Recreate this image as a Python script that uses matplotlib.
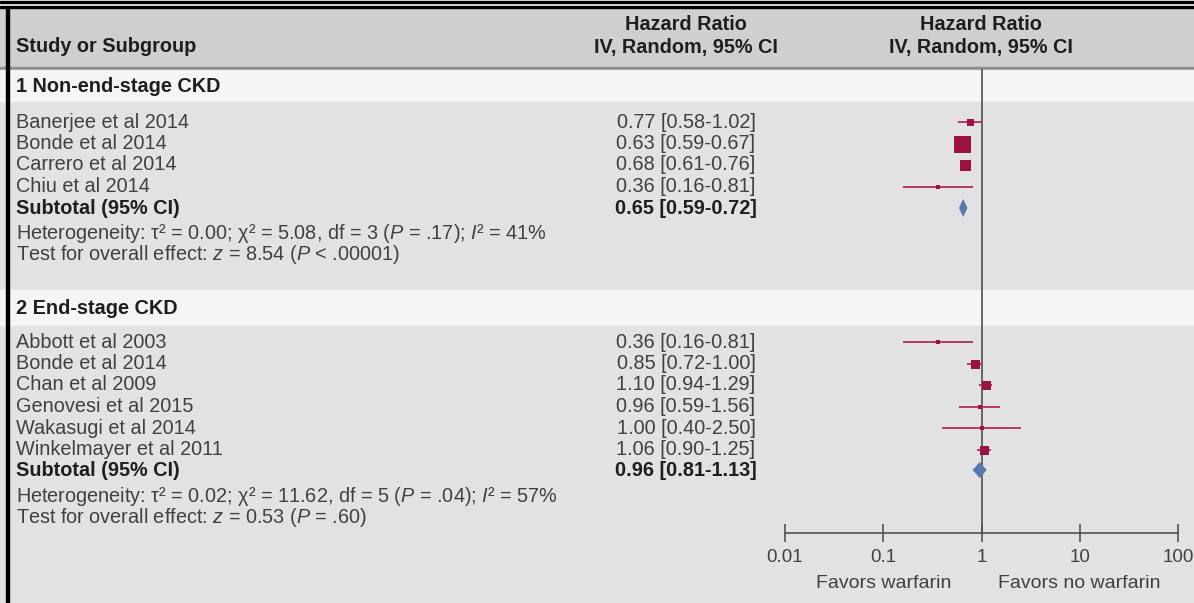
import matplotlib
matplotlib.use("Agg")
import matplotlib.pyplot as plt
from matplotlib.ticker import FixedLocator, FixedFormatter, NullLocator

plt.rcParams['font.family'] = ['Liberation Sans', 'DejaVu Sans']
plt.rcParams['mathtext.fontset'] = 'custom'
plt.rcParams['mathtext.rm'] = 'Liberation Sans'
plt.rcParams['mathtext.it'] = 'Liberation Sans:italic'
plt.rcParams['mathtext.bf'] = 'Liberation Sans:bold'

# ---- data ----
g1_name = "1 Non-end-stage CKD"
g1_studies = ["Banerjee et al 2014", "Bonde et al 2014", "Carrero et al 2014", "Chiu et al 2014"]
g1_hr = [0.77, 0.63, 0.68, 0.36]
g1_lo = [0.58, 0.59, 0.61, 0.16]
g1_hi = [1.02, 0.67, 0.76, 0.81]
g1_total = [0.65, 0.59, 0.72]
g1_het = r"Heterogeneity: τ² = 0.00; χ² = 5.08, df = 3 ($P$ = .17); $I$² = 41%"
g1_test = r"Test for overall effect: $z$ = 8.54 ($P$ < .00001)"

g2_name = "2 End-stage CKD"
g2_studies = ["Abbott et al 2003", "Bonde et al 2014", "Chan et al 2009",
              "Genovesi et al 2015", "Wakasugi et al 2014", "Winkelmayer et al 2011"]
g2_hr = [0.36, 0.85, 1.10, 0.96, 1.00, 1.06]
g2_lo = [0.16, 0.72, 0.94, 0.59, 0.40, 0.90]
g2_hi = [0.81, 1.00, 1.29, 1.56, 2.50, 1.25]
g2_total = [0.96, 0.81, 1.13]
g2_het = r"Heterogeneity: τ² = 0.02; χ² = 11.62, df = 5 ($P$ = .04); $I$² = 57%"
g2_test = r"Test for overall effect: $z$ = 0.53 ($P$ = .60)"

ticks = [0.01, 0.1, 1, 10, 100]
tick_labels = ["0.01", "0.1", "1", "10", "100"]

# ---- layout (pixel rows) ----
W, H = 1194, 603
g1_rows = [122, 143.5, 165, 186.5]
g1_sub_y = 208
g1_het_y, g1_test_y = 232, 253
g2_rows = [342, 363.5, 385, 406.5, 428, 449.5]
g2_sub_y = 470
g2_het_y, g2_test_y = 495, 516
g1_size = [7, 17, 11, 4]
g2_size = [4, 9, 9, 5, 5, 9]

SQ = '#9c1240'
LINE = '#b53a62'
DIA = '#5879b0'
TXT = '#404040'
BOLD = '#1e1e1e'

fig = plt.figure(figsize=(W / 100, H / 100), dpi=100)
bg = fig.add_axes([0, 0, 1, 1])
bg.set_xlim(0, W)
bg.set_ylim(H, 0)
bg.axis('off')

# bands
bg.axhspan(0, H, color='white', zorder=0)
bg.axhspan(8, 67, color='#cfcfd1', zorder=1)
bg.axhspan(67, 69.5, color='#8e8e90', zorder=1)
bg.axhspan(69.5, 102, color='#f5f5f5', zorder=1)
bg.axhspan(102, 290, color='#e2e2e4', zorder=1)
bg.axhspan(290, 326, color='#f5f5f5', zorder=1)
bg.axhspan(326, H, color='#e2e2e4', zorder=1)
# borders
bg.axhspan(0.5, 3.3, color='black', zorder=2)
bg.axhspan(5.8, 8, color='black', zorder=2)
bg.axvspan(6, 8.5, ymin=0, ymax=1 - 8 / H, color='black', zorder=2)

fs = 14.3
xl = 16
col_hr = 686
hdr1, hdr2 = 24, 47
bg.text(xl, hdr2, "Study or Subgroup", fontsize=fs, fontweight='bold', color=BOLD, va='center')
bg.text(col_hr, hdr1, "Hazard Ratio", fontsize=fs, fontweight='bold', color=BOLD, ha='center', va='center')
bg.text(col_hr, hdr2, "IV, Random, 95% CI", fontsize=fs, fontweight='bold', color=BOLD, ha='center', va='center')
bg.text(981, hdr1, "Hazard Ratio", fontsize=fs, fontweight='bold', color=BOLD, ha='center', va='center')
bg.text(981, hdr2, "IV, Random, 95% CI", fontsize=fs, fontweight='bold', color=BOLD, ha='center', va='center')


def fmt(hr, lo, hi):
    return f"{hr:.2f} [{lo:.2f}-{hi:.2f}]"


def table_block(name, name_y, studies, hr, lo, hi, rows, total, sub_y, het, het_y, test, test_y):
    bg.text(xl, name_y, name, fontsize=fs, fontweight='bold', color=BOLD, va='center')
    for s, h, l, u, y in zip(studies, hr, lo, hi, rows):
        bg.text(xl, y, s, fontsize=fs, color=TXT, va='center')
        bg.text(col_hr, y, fmt(h, l, u), fontsize=fs, color=TXT, ha='center', va='center')
    bg.text(xl, sub_y, "Subtotal (95% CI)", fontsize=fs, fontweight='bold', color=BOLD, va='center')
    bg.text(col_hr, sub_y, fmt(*total), fontsize=fs, fontweight='bold', color=BOLD, ha='center', va='center')
    # baseline placement keeps mathtext lines level with plain rows
    bg.text(xl, het_y + 7, het, fontsize=fs, color=TXT, va='baseline')
    bg.text(xl, test_y + 7, test, fontsize=fs, color=TXT, va='baseline')


table_block(g1_name, 86, g1_studies, g1_hr, g1_lo, g1_hi, g1_rows, g1_total, g1_sub_y,
            g1_het, g1_het_y, g1_test, g1_test_y)
table_block(g2_name, 308, g2_studies, g2_hr, g2_lo, g2_hi, g2_rows, g2_total, g2_sub_y,
            g2_het, g2_het_y, g2_test, g2_test_y)

# ---- forest panel ----
x0, x1 = 785, 1178
ax = fig.add_axes([x0 / W, 0, (x1 - x0) / W, 1])
ax.set_xscale('log')
ax.set_xlim(0.01, 100)
ax.set_ylim(H, 0)
ax.patch.set_visible(False)
for sp in ['top', 'left', 'right']:
    ax.spines[sp].set_visible(False)
axis_y = 533
ax.spines['bottom'].set_position(('data', axis_y))
ax.spines['bottom'].set_color('#505050')
ax.spines['bottom'].set_linewidth(1.2)
ax.xaxis.set_major_locator(FixedLocator(ticks))
ax.xaxis.set_major_formatter(FixedFormatter(tick_labels))
ax.xaxis.set_minor_locator(NullLocator())
ax.tick_params(axis='x', direction='inout', length=13, width=1.2, color='#505050',
               labelsize=13.5, labelcolor=TXT, pad=5)
ax.set_yticks([])

ax.vlines(1, 69, axis_y, color='#505050', lw=1.2, zorder=2)


def forest(hr, lo, hi, rows, sizes, total, sub_y, dia_h):
    for h, l, u, y, s in zip(hr, lo, hi, rows, sizes):
        ax.plot([l, u], [y, y], color=LINE, lw=1.4, zorder=3, solid_capstyle='butt')
        ax.plot(h, y, marker='s', ms=s * 0.72, color=SQ, mec=SQ, mew=0, zorder=4)
    est, l, u = total
    ax.fill([l, est, u, est], [sub_y, sub_y - dia_h, sub_y, sub_y + dia_h],
            color=DIA, lw=0, zorder=4)


forest(g1_hr, g1_lo, g1_hi, g1_rows, g1_size, g1_total, g1_sub_y, 9)
forest(g2_hr, g2_lo, g2_hi, g2_rows, g2_size, g2_total, g2_sub_y, 8)

ax.text(0.1, 584, "Favors warfarin", fontsize=14, color=TXT, ha='center', va='center')
ax.text(10, 584, "Favors no warfarin", fontsize=14, color=TXT, ha='center', va='center')

fig.savefig("out.png", dpi=100)
